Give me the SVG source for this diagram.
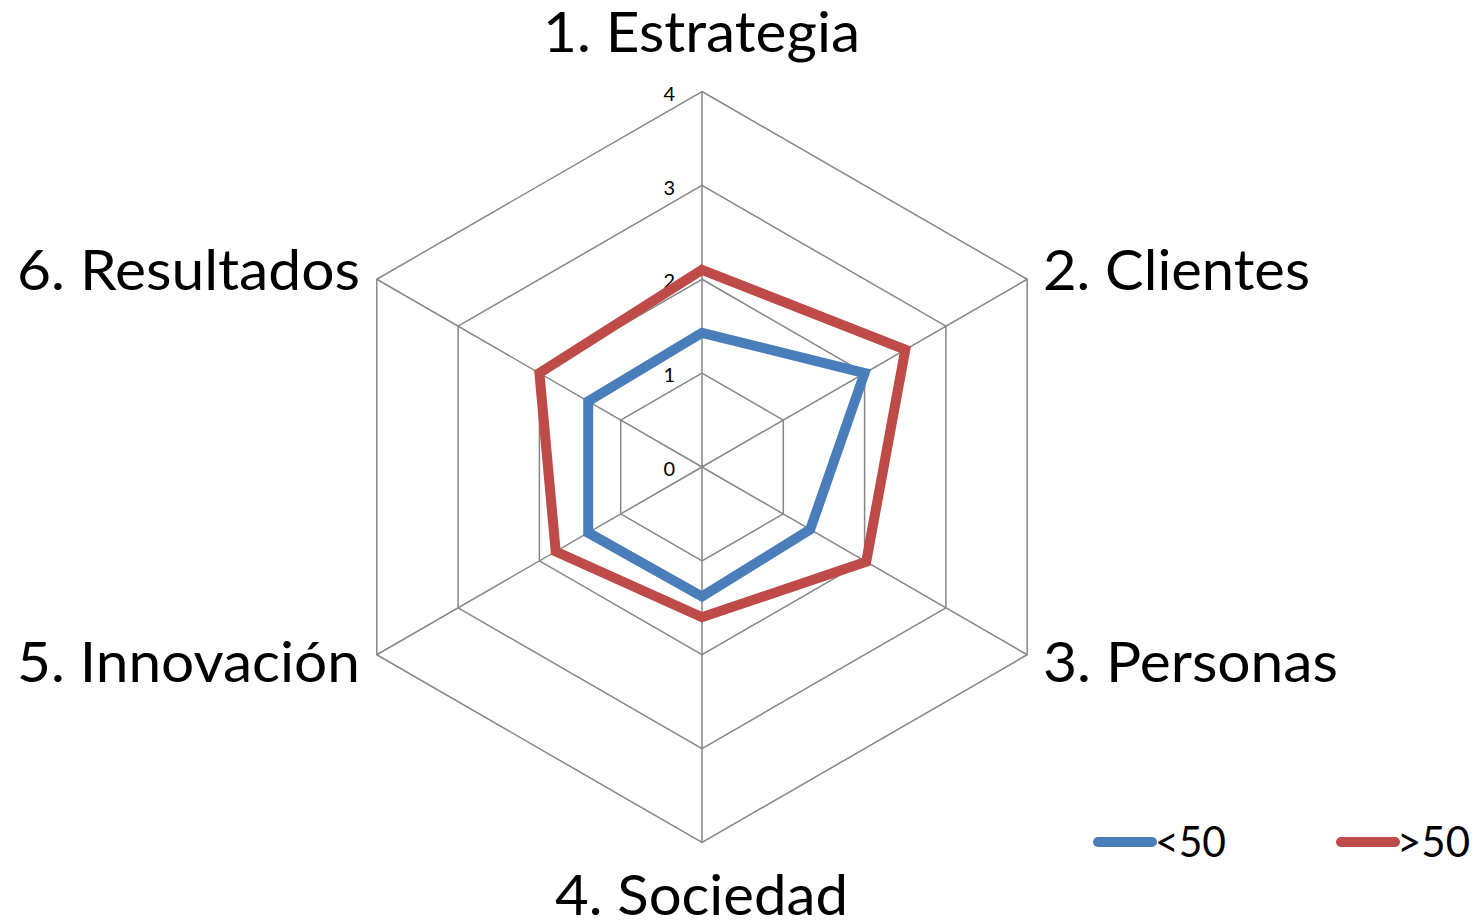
<svg xmlns="http://www.w3.org/2000/svg" width="1483" height="924" viewBox="0 0 1483 924">
<style>
.grid{fill:none;stroke:#868686;stroke-width:1.5}
.lbl{font-family:Lato,"Open Sans","Liberation Sans",sans-serif;font-size:56px;fill:#000}
.tick{font-family:Lato,"Open Sans","Liberation Sans",sans-serif;font-size:20px;fill:#000;text-anchor:end}
.leg{font-family:Lato,"Open Sans","Liberation Sans",sans-serif;font-size:42px;fill:#000}
.s1{fill:none;stroke:#4a7ebb;stroke-width:10;stroke-linejoin:miter}
.s2{fill:none;stroke:#be4b48;stroke-width:10;stroke-linejoin:miter}
</style>
<rect width="1483" height="924" fill="#fff"/>
<g id="grid">
<polygon class="grid" points="702,373.1 783.3,420.1 783.3,513.9 702,560.9 620.7,513.9 620.7,420.1"/>
<polygon class="grid" points="702,279.25 864.6,373.1 864.6,560.9 702,654.75 539.4,560.9 539.4,373.1"/>
<polygon class="grid" points="702,185.4 945.9,326.2 945.9,607.8 702,748.6 458.1,607.8 458.1,326.2"/>
<polygon class="grid" points="702,91.5 1027.2,279.25 1027.2,654.75 702,842.5 376.8,654.75 376.8,279.25"/>
<path class="grid" d="M702,467V91.5M702,467L1027.2,279.25M702,467L1027.2,654.75M702,467V842.5M702,467L376.8,654.75M702,467L376.8,279.25"/>
</g>
<g id="ticks">
<text class="tick" x="675" y="101">4</text>
<text class="tick" x="675" y="195">3</text>
<text class="tick" x="675" y="288">2</text>
<text class="tick" x="675" y="382">1</text>
<text class="tick" x="675" y="476">0</text>
</g>
<g id="connectors">
<polygon id="series-lt50" class="s1" points="702,332.8 864.6,373.1 810.2,529.4 702,596.5 588.2,532.7 588.2,401.3"/>
<polygon id="series-gt50" class="s2" points="702,269.9 905.3,349.7 866.2,561.8 702,617.2 555.7,551.5 539.4,373.1"/>
</g>
<g id="axis-1"><text class="lbl" x="543" y="52" textLength="317" lengthAdjust="spacingAndGlyphs">1. Estrategia</text></g>
<g id="axis-2"><text class="lbl" x="1043" y="290" textLength="267" lengthAdjust="spacingAndGlyphs">2. Clientes</text></g>
<g id="axis-3"><text class="lbl" x="1043" y="682" textLength="295" lengthAdjust="spacingAndGlyphs">3. Personas</text></g>
<g id="axis-4"><text class="lbl" x="555" y="915" textLength="293" lengthAdjust="spacingAndGlyphs">4. Sociedad</text></g>
<g id="axis-5"><text class="lbl" x="17" y="682" textLength="343" lengthAdjust="spacingAndGlyphs">5. Innovación</text></g>
<g id="axis-6"><text class="lbl" x="17" y="290" textLength="343" lengthAdjust="spacingAndGlyphs">6. Resultados</text></g>
<g id="legend">
<line x1="1098" y1="842" x2="1152" y2="842" stroke="#4a7ebb" stroke-width="10" stroke-linecap="round"/>
<text class="leg" x="1155" y="857" textLength="71" lengthAdjust="spacingAndGlyphs">&lt;50</text>
<line x1="1341" y1="842" x2="1395" y2="842" stroke="#be4b48" stroke-width="10" stroke-linecap="round"/>
<text class="leg" x="1397" y="857" textLength="73" lengthAdjust="spacingAndGlyphs">&gt;50</text>
</g>
</svg>
